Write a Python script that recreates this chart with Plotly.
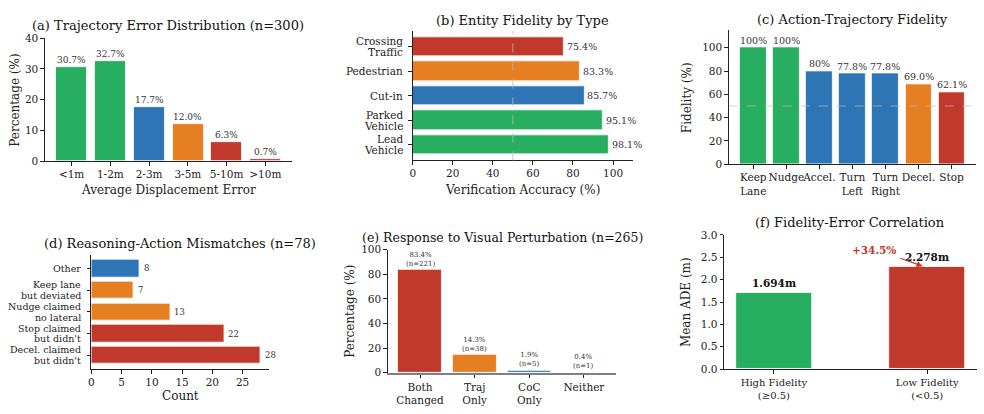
import plotly.graph_objects as go

W, H = 984, 414
FONT = "DejaVu Serif"
GREEN, BLUE, ORANGE, RED = "#27ae60", "#2e75b6", "#e67e22", "#c0392b"

# (a) Trajectory error distribution
a_cats = ["<1m", "1-2m", "2-3m", "3-5m", "5-10m", ">10m"]
a_vals = [30.7, 32.7, 17.7, 12.0, 6.3, 0.7]
a_cols = [GREEN, GREEN, BLUE, ORANGE, RED, RED]

# (b) Entity fidelity by type (bottom to top)
b_cats = ["Lead\nVehicle", "Parked\nVehicle", "Cut-in", "Pedestrian", "Crossing\nTraffic"]
b_vals = [98.1, 95.1, 85.7, 83.3, 75.4]
b_cols = [GREEN, GREEN, BLUE, ORANGE, RED]

# (c) Action-trajectory fidelity
c_cats = ["Keep<br>Lane", "Nudge", "Accel.", "Turn<br>Left", "Turn<br>Right", "Decel.", "Stop"]
c_vals = [100, 100, 80, 77.8, 77.8, 69.0, 62.1]
c_labels = ["100%", "100%", "80%", "77.8%", "77.8%", "69.0%", "62.1%"]
c_cols = [GREEN, GREEN, BLUE, BLUE, BLUE, ORANGE, RED]

# (d) Reasoning-action mismatches (bottom to top)
d_cats = ["Decel. claimed\nbut didn't", "Stop claimed\nbut didn't", "Nudge claimed\nno lateral",
          "Keep lane\nbut deviated", "Other"]
d_vals = [28, 22, 13, 7, 8]
d_cols = [RED, RED, ORANGE, ORANGE, BLUE]

# (e) Response to visual perturbation
e_cats = ["Both<br>Changed", "Traj<br>Only", "CoC<br>Only", "Neither"]
e_vals = [83.4, 14.3, 1.9, 0.4]
e_ns = [221, 38, 5, 1]
e_cols = [RED, ORANGE, BLUE, BLUE]

# (f) Fidelity-error correlation
f_cats = ["High Fidelity<br>(≥0.5)", "Low Fidelity<br>(<0.5)"]
f_vals = [1.694, 2.278]
f_cols = [GREEN, RED]


def px(x):
    return x / W


def py(y):
    return 1 - y / H


fig = go.Figure()
edge = dict(color="white", width=0.8)

fig.add_trace(go.Bar(x=list(range(6)), y=a_vals, marker=dict(color=a_cols, line=edge), width=0.8,
                     xaxis="x", yaxis="y"))
fig.add_trace(go.Bar(y=list(range(5)), x=b_vals, orientation="h", marker=dict(color=b_cols, line=edge),
                     width=0.8, xaxis="x2", yaxis="y2"))
fig.add_trace(go.Bar(x=list(range(7)), y=c_vals, marker=dict(color=c_cols, line=edge), width=0.8,
                     xaxis="x3", yaxis="y3"))
fig.add_trace(go.Bar(y=list(range(5)), x=d_vals, orientation="h", marker=dict(color=d_cols, line=edge),
                     width=0.8, xaxis="x4", yaxis="y4"))
fig.add_trace(go.Bar(x=list(range(4)), y=e_vals, marker=dict(color=e_cols, line=edge), width=0.8,
                     xaxis="x5", yaxis="y5"))
fig.add_trace(go.Bar(x=list(range(2)), y=f_vals, marker=dict(color=f_cols, line=edge), width=0.5,
                     xaxis="x6", yaxis="y6"))

tickfont = dict(family=FONT, size=10.5, color="#222")


def ax(domain, rng, **kw):
    d = dict(domain=domain, range=rng, showgrid=False, zeroline=False, showline=True,
             linecolor="#222", linewidth=1, ticks="outside", ticklen=3.5, tickwidth=0.8,
             tickcolor="#222", tickfont=tickfont, fixedrange=True, tickangle=0)
    d.update(kw)
    return d


B_LEFT, D_LEFT = 411, 88.7

layout = dict(
    width=W, height=H, margin=dict(l=0, r=0, t=0, b=0), showlegend=False,
    plot_bgcolor="white", paper_bgcolor="white", font=dict(family=FONT, color="#222"),
    bargap=0,
    xaxis=ax([px(42), px(290)], [-0.69, 5.69], tickvals=list(range(6)), ticktext=a_cats, anchor="y"),
    yaxis=ax([py(160), py(33)], [0, 40], tickvals=[0, 10, 20, 30, 40], anchor="x"),
    xaxis2=ax([px(B_LEFT), px(632)], [0, 110], tickvals=[0, 20, 40, 60, 80, 100], anchor="y2"),
    yaxis2=ax([py(159), py(26)], [-0.64, 4.64], tickvals=list(range(5)), showticklabels=False, anchor="x2"),
    xaxis3=ax([px(728), px(976)], [-0.74, 6.74], tickvals=list(range(7)), ticktext=c_cats, anchor="y3"),
    yaxis3=ax([py(163), py(25)], [0, 115], tickvals=[0, 20, 40, 60, 80, 100], anchor="x3"),
    xaxis4=ax([px(D_LEFT), px(267)], [0, 29.4], tickvals=[0, 5, 10, 15, 20, 25], anchor="y4"),
    yaxis4=ax([py(374), py(256)], [-0.64, 4.64], tickvals=list(range(5)), showticklabels=False, anchor="x4"),
    xaxis5=ax([px(386), px(615)], [-0.59, 3.59], tickvals=list(range(4)), ticktext=e_cats, anchor="y5",
              linecolor="#808080", linewidth=1.6),
    yaxis5=ax([py(377.7), py(251)], [0, 100], tickvals=[0, 20, 40, 60, 80, 100], anchor="x5"),
    xaxis6=ax([px(723.3), px(977)], [-0.325, 1.325], tickvals=[0, 1], ticktext=f_cats, anchor="y6",
              tickfont=dict(family=FONT, size=10, color="#222")),
    yaxis6=ax([py(374), py(235.7)], [0, 3.0], tickvals=[0, 0.5, 1.0, 1.5, 2.0, 2.5, 3.0],
              tickformat=".1f", anchor="x6"),
)
fig.update_layout(**layout)

# reference lines
fig.add_shape(type="line", xref="x2", yref="y2 domain", x0=50, x1=50, y0=0, y1=1,
              line=dict(color="#bbbbbb", width=0.8, dash="dash"), layer="above")
fig.add_shape(type="line", xref="x3 domain", yref="y3", x0=0, x1=1, y0=50, y1=50,
              line=dict(color="#bbbbbb", width=0.7, dash="dash"), layer="above")

ann = []

# titles
titles = [
    ("(a) Trajectory Error Distribution (n=300)", 166, 20, 13),
    ("(b) Entity Fidelity by Type", 521.5, 15, 13),
    ("(c) Action-Trajectory Fidelity", 852, 13.5, 13),
    ("(d) Reasoning-Action Mismatches (n=78)", 178, 245, 13),
    ("(e) Response to Visual Perturbation (n=265)", 501, 238, 12.5),
    ("(f) Fidelity-Error Correlation", 850, 223, 13),
]
for t, x, y, s in titles:
    ann.append(dict(text=t, xref="paper", yref="paper", x=px(x), y=py(y), xanchor="center",
                    yanchor="middle", showarrow=False, font=dict(family=FONT, size=s, color="#111")))

# axis titles
atf = dict(family=FONT, size=12, color="#222")
axis_titles = [
    ("Average Displacement Error", 166, 190, 0),
    ("Percentage (%)", 12, 96.5, -90),
    ("Verification Accuracy (%)", 521.5, 190, 0),
    ("Fidelity (%)", 686, 94, -90),
    ("Count", 178, 401.7, 0),
    ("Percentage (%)", 348, 314, -90),
    ("Mean ADE (m)", 685, 305, -90),
]
for t, x, y, ang in axis_titles:
    ann.append(dict(text=t, xref="paper", yref="paper", x=px(x), y=py(y), xanchor="center",
                    yanchor="middle", showarrow=False, textangle=ang, font=atf))


# multi-line category labels for the horizontal bar charts (matplotlib-like line spacing)
def ylabels(cats, yref, left, size, spacing):
    for i, c in enumerate(cats):
        lines = c.split("\n")
        n = len(lines)
        for k, line in enumerate(lines):
            off = (k - (n - 1) / 2) * spacing
            ann.append(dict(text=line, xref="paper", yref=yref, x=px(left - 8), y=i, yshift=-off,
                            xanchor="right", yanchor="middle", showarrow=False,
                            font=dict(family=FONT, size=size, color="#222")))


ylabels(b_cats, "y2", B_LEFT, 10.5, 11)
ylabels(d_cats, "y4", D_LEFT, 9.5, 10.7)

lab = "#333"
for i, v in enumerate(a_vals):
    ann.append(dict(text=f"{v:.1f}%", x=i, y=v, xref="x", yref="y", yanchor="bottom", yshift=0,
                    showarrow=False, font=dict(family=FONT, size=9, color=lab)))
for i, v in enumerate(b_vals):
    ann.append(dict(text=f"{v:.1f}%", x=v, y=i, xref="x2", yref="y2", xanchor="left", xshift=1,
                    showarrow=False, font=dict(family=FONT, size=9.5, color=lab)))
for i, v in enumerate(c_vals):
    ann.append(dict(text=c_labels[i], x=i, y=v, xref="x3", yref="y3", yanchor="bottom", yshift=0,
                    showarrow=False, font=dict(family=FONT, size=9.5, color=lab)))
for i, v in enumerate(d_vals):
    ann.append(dict(text=str(v), x=v, y=i, xref="x4", yref="y4", xanchor="left", xshift=2,
                    showarrow=False, font=dict(family=FONT, size=8.5, color=lab)))
for i, v in enumerate(e_vals):
    ann.append(dict(text=f"{v:.1f}%<br>(n={e_ns[i]})", x=i, y=v, xref="x5", yref="y5", yanchor="bottom",
                    yshift=0, showarrow=False, font=dict(family=FONT, size=7, color=lab)))
for i, v in enumerate(f_vals):
    ann.append(dict(text=f"<b>{v:.3f}m</b>", x=i, y=v, xref="x6", yref="y6", yanchor="bottom", yshift=2,
                    showarrow=False, font=dict(family=FONT, size=10.5, color="#111")))

pct = (f_vals[1] - f_vals[0]) / f_vals[0] * 100
ann.append(dict(text="", x=0.97, y=2.30, xref="x6", yref="y6", ax=0.815, ay=2.49, axref="x6", ayref="y6",
                showarrow=True, arrowhead=2, arrowsize=1, arrowwidth=1.2, arrowcolor=RED, standoff=0))
ann.append(dict(text=f"<b>+{pct:.1f}%</b>", x=0.655, y=2.67, xref="x6", yref="y6", showarrow=False,
                font=dict(family=FONT, size=10.5, color=RED)))

fig.update_layout(annotations=ann)
fig.write_html("out.html")
